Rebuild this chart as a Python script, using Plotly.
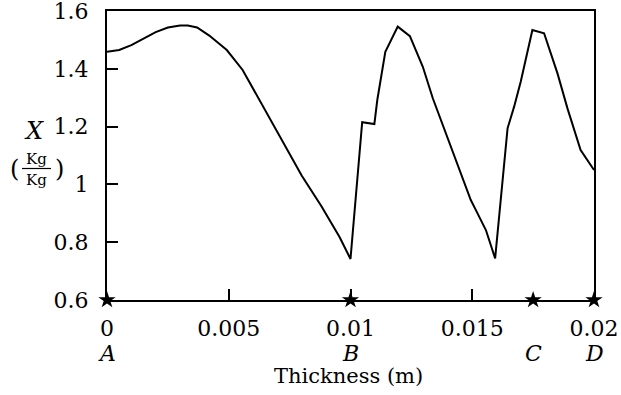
import plotly.graph_objects as go

thickness = [0.0, 0.0005, 0.0010, 0.0015, 0.0020, 0.0025, 0.0030, 0.00332, 0.0037, 0.0042, 0.00492,
             0.00557, 0.00656, 0.0072, 0.0080, 0.0088, 0.00955, 0.0100,
             0.01048, 0.01098, 0.0111, 0.01143, 0.01194, 0.01244, 0.01297, 0.01338,
             0.01406, 0.01447, 0.01494, 0.01515, 0.01556, 0.01594,
             0.01617, 0.01645, 0.01672, 0.01699, 0.01747, 0.01795, 0.0185, 0.01891,
             0.01945, 0.0200]
moisture = [1.459, 1.465, 1.482, 1.505, 1.527, 1.543, 1.550, 1.550, 1.543, 1.515, 1.465,
            1.396, 1.247, 1.150, 1.030, 0.925, 0.818, 0.742,
            1.215, 1.209, 1.292, 1.459, 1.546, 1.513, 1.407, 1.298,
            1.142, 1.050, 0.946, 0.911, 0.842, 0.744,
            0.946, 1.194, 1.269, 1.355, 1.534, 1.523, 1.384, 1.263,
            1.119, 1.050]

point_x = [0.0, 0.01, 0.0175, 0.02]
point_y = [0.6, 0.6, 0.6, 0.6]
point_labels = ["A", "B", "C", "D"]

x_tickvals = [0, 0.005, 0.01, 0.015, 0.02]
x_ticktext = ["0", "0.005", "0.01", "0.015", "0.02"]
y_tickvals = [0.6, 0.8, 1.0, 1.2, 1.4, 1.6]
y_ticktext = ["0.6", "0.8", "1", "1.2", "1.4", "1.6"]

FONT = "DejaVu Serif"
W, H = 621, 395
# plot area in screen pixels: left 107, top 11, right 594, bottom 300
L, T = 107, 11
R, B = 621 - 594, 395 - 300
PW, PH = 594 - 107, 300 - 11

def px_x(px):
    return (px - 107) / PW

def px_y(py):
    return 1 - (py - 11) / PH

fig = go.Figure()
fig.add_trace(go.Scatter(x=thickness, y=moisture, mode="lines",
                         line=dict(color="black", width=2), showlegend=False))
fig.add_trace(go.Scatter(x=point_x, y=point_y, mode="markers",
                         marker=dict(symbol="star", size=13, color="black"),
                         cliponaxis=False, showlegend=False))

annotations = []
for xv, lab in zip(point_x, point_labels):
    annotations.append(dict(x=xv, y=0, xref="x", yref="paper", text=f"<i>{lab}</i>",
                            showarrow=False, yanchor="middle", xanchor="center",
                            yshift=-53, font=dict(family=FONT, size=22, color="black")))
annotations.append(dict(x=0.5, y=0, xref="paper", yref="paper", text="Thickness (m)",
                        showarrow=False, yanchor="middle", yshift=-76, xshift=-2,
                        font=dict(family=FONT, size=21, color="black")))
annotations.append(dict(x=px_x(34), y=px_y(131), xref="paper", yref="paper", text="<i>X</i>",
                        showarrow=False, xanchor="center", yanchor="middle",
                        font=dict(family=FONT, size=24, color="black")))
annotations.append(dict(x=px_x(14), y=px_y(169), xref="paper", yref="paper", text="(",
                        showarrow=False, xanchor="center", yanchor="middle",
                        font=dict(family=FONT, size=24, color="black")))
annotations.append(dict(x=px_x(59), y=px_y(169), xref="paper", yref="paper", text=")",
                        showarrow=False, xanchor="center", yanchor="middle",
                        font=dict(family=FONT, size=24, color="black")))
annotations.append(dict(x=px_x(36.5), y=px_y(159), xref="paper", yref="paper", text="Kg",
                        showarrow=False, xanchor="center", yanchor="middle",
                        font=dict(family=FONT, size=15, color="black")))
annotations.append(dict(x=px_x(36.5), y=px_y(180), xref="paper", yref="paper", text="Kg",
                        showarrow=False, xanchor="center", yanchor="middle",
                        font=dict(family=FONT, size=15, color="black")))

fig.update_layout(
    width=W, height=H,
    margin=dict(l=L, r=R, t=T, b=B, pad=0, autoexpand=False),
    paper_bgcolor="white", plot_bgcolor="white",
    font=dict(family=FONT, color="black"),
    annotations=annotations,
    shapes=[dict(type="line", xref="paper", yref="paper",
                 x0=px_x(22), x1=px_x(51), y0=px_y(168.5), y1=px_y(168.5),
                 line=dict(color="black", width=1.2))],
    xaxis=dict(range=[0, 0.02], tickvals=x_tickvals, ticktext=x_ticktext,
               ticks="inside", ticklen=11, tickwidth=1.5, tickcolor="black",
               showline=True, linecolor="black", linewidth=2, mirror=True,
               showgrid=False, zeroline=False, ticklabelstandoff=8, automargin=False,
               ticklabeloverflow="allow",
               tickfont=dict(family=FONT, size=22, color="black")),
    yaxis=dict(range=[0.6, 1.6], tickvals=y_tickvals, ticktext=y_ticktext,
               ticks="inside", ticklen=11, tickwidth=1.5, tickcolor="black",
               showline=True, linecolor="black", linewidth=2, mirror=True,
               showgrid=False, zeroline=False, ticklabelstandoff=12, automargin=False,
               ticklabeloverflow="allow",
               tickfont=dict(family=FONT, size=22, color="black")),
)

fig.write_html("out.html", config={"displayModeBar": False},
               post_script="document.body.style.margin='0px';")
